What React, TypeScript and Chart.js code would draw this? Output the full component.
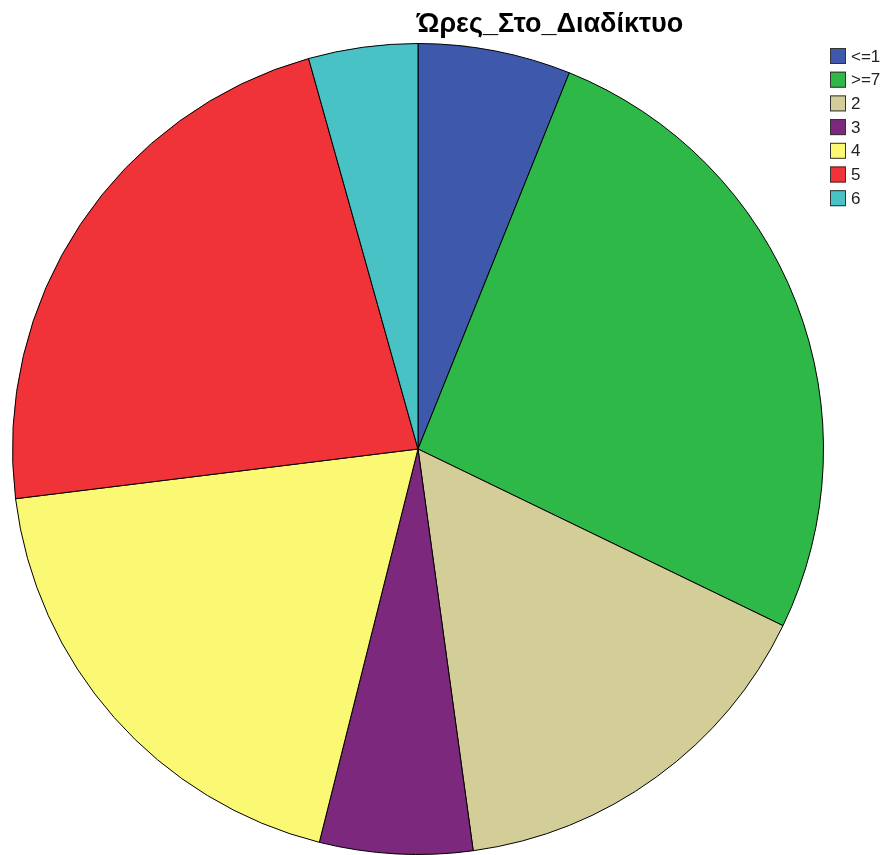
import React, { useEffect, useRef } from "react";
import { Chart, registerables } from "chart.js";

Chart.register(...registerables);

const TITLE = "Ώρες_Στο_Διαδίκτυο";
const categories = ["<=1", ">=7", "2", "3", "4", "5", "6"];
const counts = [7, 30, 18, 7, 22, 26, 5];
const colors = ["#3E58AC", "#2EB848", "#D3CE97", "#7C287D", "#FBF873", "#EF3338", "#48C2C5"];

const overlay = {
  id: "overlay",
  afterDraw(chart: any) {
    const ctx = chart.ctx;
    ctx.save();
    ctx.fillStyle = "#000";
    ctx.font = "bold 27px 'Liberation Sans', Arial, sans-serif";
    ctx.textAlign = "center";
    ctx.textBaseline = "alphabetic";
    ctx.fillText(TITLE, 550, 32);

    ctx.font = "17px 'Liberation Sans', Arial, sans-serif";
    ctx.textAlign = "left";
    ctx.textBaseline = "middle";
    categories.forEach((c, i) => {
      const y = 48 + i * 23.7;
      ctx.fillStyle = colors[i];
      ctx.fillRect(830, y, 16, 16);
      ctx.strokeStyle = "#333";
      ctx.lineWidth = 1;
      ctx.strokeRect(830.5, y + 0.5, 15, 15);
      ctx.fillStyle = "#222";
      ctx.fillText(c, 851, y + 9);
    });
    ctx.restore();
  },
};

export default function App() {
  const ref = useRef<HTMLCanvasElement>(null);
  useEffect(() => {
    if (!ref.current) return;
    const chart = new Chart(ref.current, {
      type: "pie",
      data: {
        labels: categories,
        datasets: [
          {
            data: counts,
            backgroundColor: colors,
            borderColor: "#000",
            borderWidth: 1,
          },
        ],
      },
      options: {
        responsive: false,
        animation: false,
        devicePixelRatio: 1,
        layout: { padding: { left: 11, right: 65, top: 43, bottom: 0 } },
        plugins: {
          legend: { display: false },
          title: { display: false },
          tooltip: { enabled: false },
        },
      },
      plugins: [overlay],
    });
    return () => chart.destroy();
  }, []);
  return (
    <div style={{ position: "absolute", left: 0, top: 0, width: 890, height: 855, background: "#fff" }}>
      <canvas ref={ref} width={890} height={855} />
    </div>
  );
}
